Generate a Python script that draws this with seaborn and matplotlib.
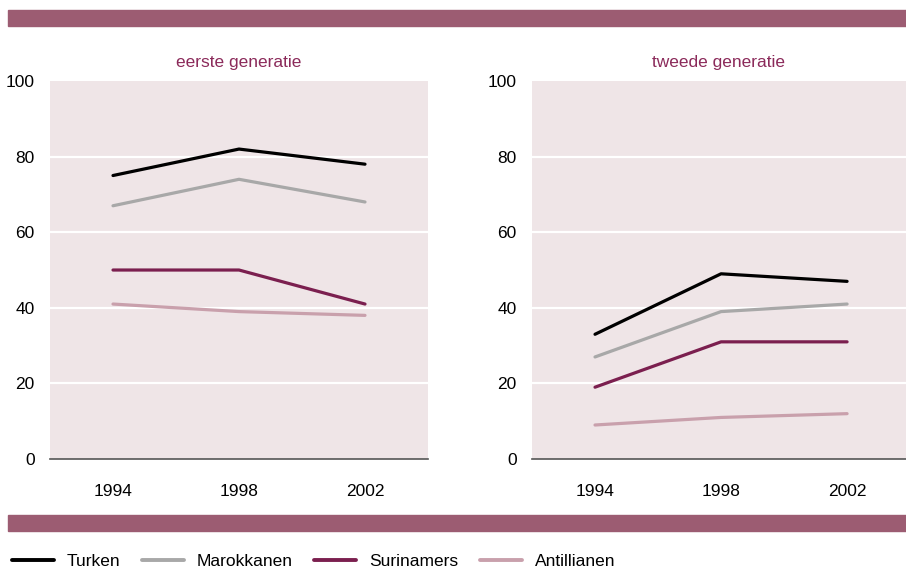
import seaborn as sns
import matplotlib.pyplot as plt
import pandas as pd
from matplotlib.patches import Rectangle
from matplotlib.lines import Line2D

jaren = [1994, 1998, 2002]
groepen = ['Turken', 'Marokkanen', 'Surinamers', 'Antillianen']
eerste = {
    'Turken': [75, 82, 78],
    'Marokkanen': [67, 74, 68],
    'Surinamers': [50, 50, 41],
    'Antillianen': [41, 39, 38],
}
tweede = {
    'Turken': [33, 49, 47],
    'Marokkanen': [27, 39, 41],
    'Surinamers': [19, 31, 31],
    'Antillianen': [9, 11, 12],
}
titels = ['eerste generatie', 'tweede generatie']
kleuren = {'Turken': '#000000', 'Marokkanen': '#a8a8a8',
           'Surinamers': '#7b1f4f', 'Antillianen': '#c9a0ac'}

sns.set_style('white')
plt.rcParams['font.family'] = ['Liberation Sans', 'DejaVu Sans']
plt.rcParams['text.color'] = 'black'
plt.rcParams['xtick.color'] = 'black'
plt.rcParams['ytick.color'] = 'black'

def lang(d):
    rows = []
    for g in groepen:
        for j, v in zip(jaren, d[g]):
            rows.append({'jaar': j, 'waarde': v, 'groep': g})
    return pd.DataFrame(rows)

fig = plt.figure(figsize=(9.06, 5.7), dpi=100)
band = '#9c5c72'
fig.patches.append(Rectangle((8/906, 1-26/570), 1, 16/570, transform=fig.transFigure, color=band, zorder=0))
fig.patches.append(Rectangle((8/906, 1-531/570), 1, 16/570, transform=fig.transFigure, color=band, zorder=0))

posities = [(50/906, 0.1947, 378/906, 378/570), (532/906, 0.1947, 374/906, 378/570)]
for i, (data, titel) in enumerate(zip([eerste, tweede], titels)):
    ax = fig.add_axes(posities[i])
    ax.set_facecolor('#efe5e7')
    df = lang(data)
    sns.lineplot(data=df, x='jaar', y='waarde', hue='groep', palette=kleuren,
                 linewidth=2.3, legend=False, ax=ax, zorder=3)
    ax.set_xlim(1992, 2004 if i == 0 else 2003.87)
    ax.set_ylim(0, 100)
    ax.set_yticks(range(0, 101, 20))
    ax.set_xticks(jaren)
    for y in [20, 40, 60, 80]:
        ax.axhline(y, color='white', lw=1.6, zorder=1)
    for s in ['top', 'right', 'left']:
        ax.spines[s].set_visible(False)
    ax.spines['bottom'].set_color('#555555')
    ax.spines['bottom'].set_linewidth(1.2)
    ax.tick_params(axis='y', length=0, pad=11, labelsize=12.5)
    ax.tick_params(axis='x', direction='out', length=5, width=1, color='#333333', pad=13, labelsize=12.5)
    ax.set_xlabel('')
    ax.set_ylabel('')
    ax.set_title(titel, color='#8b2a5a', fontsize=12.5, pad=10)

handles = [Line2D([], [], color=kleuren[g], lw=2.8) for g in groepen]
fig.legend(handles, groepen, loc='lower left', bbox_to_anchor=(-0.004, -0.025), ncol=4,
           frameon=False, fontsize=12.5, handlelength=2.4, handletextpad=0.75, columnspacing=1.25)

fig.savefig('out.png', dpi=100)
